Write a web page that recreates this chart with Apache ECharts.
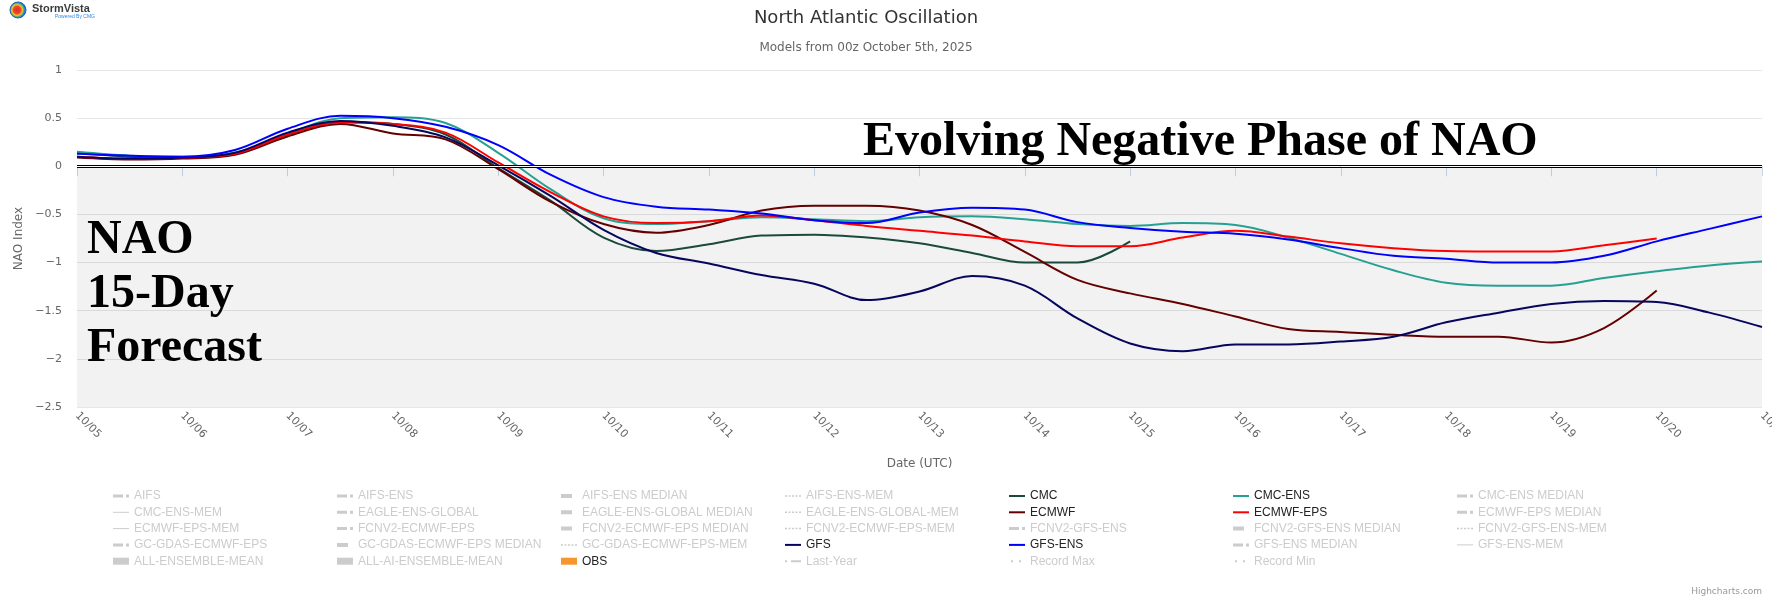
<!DOCTYPE html>
<html>
<head>
<meta charset="utf-8">
<script src="https://cdn.jsdelivr.net/npm/echarts@6/dist/echarts.min.js"></script>
<style>html,body{margin:0;padding:0;background:#fff}#c{width:1772px;height:600px}</style>
</head>
<body>
<div id="c"></div>
<script>
// ---- data ----
const hours = [0,12,24,36,48,60,72,84,96,108,120,132,144,156,168,180,192,204,216,228,240,252,264,276,288,300,312,324,336,348,360,372,384];
const dateLabels = ['10/05','10/06','10/07','10/08','10/09','10/10','10/11','10/12','10/13','10/14','10/15','10/16','10/17','10/18','10/19','10/20','10/21'];
const yTicks = [-2.5,-2,-1.5,-1,-0.5,0,0.5,1];

const cmc      = [0.14,0.10,0.09,0.13,0.32,0.46,0.44,0.33,-0.02,-0.36,-0.74,-0.88,-0.81,-0.72,-0.71,-0.74,-0.80,-0.90,-1.00,-1.00,-0.78];
const cmcEns   = [0.15,0.11,0.10,0.14,0.34,0.50,0.51,0.45,0.14,-0.24,-0.54,-0.60,-0.57,-0.53,-0.55,-0.57,-0.53,-0.52,-0.55,-0.60,-0.62,-0.59,-0.61,-0.74,-0.91,-1.08,-1.21,-1.24,-1.24,-1.16,-1.09,-1.03,-0.99];
const ecmwf    = [0.09,0.07,0.08,0.12,0.31,0.44,0.34,0.28,-0.03,-0.37,-0.60,-0.69,-0.61,-0.46,-0.41,-0.41,-0.46,-0.61,-0.89,-1.18,-1.32,-1.43,-1.56,-1.69,-1.72,-1.75,-1.77,-1.77,-1.83,-1.68,-1.29];
const ecmwfEps = [0.10,0.08,0.09,0.13,0.33,0.455,0.44,0.35,0.04,-0.27,-0.52,-0.59,-0.57,-0.51,-0.56,-0.62,-0.67,-0.72,-0.78,-0.83,-0.83,-0.74,-0.67,-0.73,-0.80,-0.85,-0.88,-0.885,-0.885,-0.82,-0.75];
const gfs      = [0.10,0.08,0.09,0.14,0.35,0.47,0.42,0.30,0.01,-0.31,-0.66,-0.90,-1.01,-1.13,-1.22,-1.39,-1.30,-1.14,-1.24,-1.58,-1.84,-1.92,-1.85,-1.85,-1.82,-1.77,-1.62,-1.52,-1.43,-1.40,-1.41,-1.52,-1.67];
const gfsEns   = [0.13,0.11,0.10,0.17,0.39,0.525,0.50,0.41,0.22,-0.09,-0.32,-0.42,-0.45,-0.49,-0.56,-0.59,-0.48,-0.43,-0.45,-0.58,-0.64,-0.68,-0.70,-0.76,-0.85,-0.93,-0.96,-1.00,-1.00,-0.93,-0.78,-0.65,-0.52];

const legendNames = [
  'AIFS','AIFS-ENS','AIFS-ENS MEDIAN','AIFS-ENS-MEM','CMC','CMC-ENS','CMC-ENS MEDIAN',
  'CMC-ENS-MEM','EAGLE-ENS-GLOBAL','EAGLE-ENS-GLOBAL MEDIAN','EAGLE-ENS-GLOBAL-MEM','ECMWF','ECMWF-EPS','ECMWF-EPS MEDIAN',
  'ECMWF-EPS-MEM','FCNV2-ECMWF-EPS','FCNV2-ECMWF-EPS MEDIAN','FCNV2-ECMWF-EPS-MEM','FCNV2-GFS-ENS','FCNV2-GFS-ENS MEDIAN','FCNV2-GFS-ENS-MEM',
  'GC-GDAS-ECMWF-EPS','GC-GDAS-ECMWF-EPS MEDIAN','GC-GDAS-ECMWF-EPS-MEM','GFS','GFS-ENS','GFS-ENS MEDIAN','GFS-ENS-MEM',
  'ALL-ENSEMBLE-MEAN','ALL-AI-ENSEMBLE-MEAN','OBS','Last-Year','Record Max','Record Min'
];
const legendKinds = [
  'dashdot','dashdot','thick','dotted','solid','solid','dashdot',
  'thin','dashdot','thick','dotted','solid','solid','dashdot',
  'thin','dashdot','thick','dotted','dashdot','thick','dotted',
  'dashdot','thick','dotted','solid','solid','dashdot','thin',
  'block','block','block','dotdash','sparse','sparse'
];
const seriesValues = {
  'CMC': cmc, 'CMC-ENS': cmcEns, 'ECMWF': ecmwf, 'ECMWF-EPS': ecmwfEps, 'GFS': gfs, 'GFS-ENS': gfsEns
};
const seriesColors = {
  'CMC': '#1b4a3b', 'CMC-ENS': '#26a092', 'ECMWF': '#650000', 'ECMWF-EPS': '#ff0000',
  'GFS': '#06065e', 'GFS-ENS': '#0000ff', 'OBS': '#f7962f'
};

// ---- build ----
const pad = 'M15.99,0h0.01v0.01h-0.01z';
const iconPaths = {
  solid:   'path://M0,0h16v2h-16z',
  thin:    'path://M0,0h16v1h-16z',
  dashdot: 'path://M0,0h10v3h-10zM13,0h3v3h-3z',
  thick:   'path://M0,0h11v4h-11z' + pad,
  dotted:  'path://M0,0h2v1.5h-2zM3.5,0h2v1.5h-2zM7,0h2v1.5h-2zM10.5,0h2v1.5h-2zM14,0h2v1.5h-2z',
  block:   'path://M0,0h16v7h-16z',
  dotdash: 'path://M0,0h2v2h-2zM6,0h10v2h-10z',
  sparse:  'path://M0,0h0.01v0.01h-0.01zM2,0h2v2h-2zM10,0h2v2h-2z' + pad
};

const selected = {};
legendNames.forEach(n => { selected[n] = (n in seriesValues) || n === 'OBS'; });

const markSeries = {
  type: 'line', name: '__band', data: [], silent: true, z: 1,
  markArea: { silent: true, itemStyle: { color: 'rgba(0,0,0,0.05)' }, data: [[{ yAxis: -2.5 }, { yAxis: 0 }]] },
  markLine: {
    silent: true, symbol: 'none', label: { show: false }, animation: false,
    data: [
      { yAxis: 0, lineStyle: { color: '#000', width: 3, type: 'solid' } },
      { yAxis: 0, lineStyle: { color: '#fff', width: 1, type: 'solid' } }
    ]
  }
};

const series = [markSeries];
legendNames.forEach(n => {
  if (n === 'OBS') {
    series.push({ type: 'bar', name: n, data: [], itemStyle: { color: seriesColors[n] } });
    return;
  }
  const vals = seriesValues[n] || [];
  series.push({
    type: 'line', name: n, smooth: 0.35, showSymbol: false, symbol: 'none',
    data: vals.map((v, i) => [hours[i], v]),
    lineStyle: { width: 2, color: seriesColors[n] || '#999' },
    itemStyle: { color: seriesColors[n] || '#999' },
    z: 3
  });
});

const colLeft = [113, 337, 561, 785, 1009, 1233, 1457];
const legends = colLeft.map((left, c) => {
  const data = [];
  for (let r = 0; r * 7 + c < legendNames.length; r++) {
    const idx = r * 7 + c;
    data.push({ name: legendNames[idx], icon: iconPaths[legendKinds[idx]] });
  }
  return {
    orient: 'vertical', left: left, top: 490, padding: 0,
    itemWidth: 16, itemHeight: 14, itemGap: 4.3,
    selected: selected, selectedMode: true,
    inactiveColor: '#cccccc', inactiveBorderColor: '#cccccc',
    textStyle: { color: '#222', fontSize: 12, fontFamily: 'Liberation Sans, Arial, sans-serif', padding: [0,0,0,0] },
    data: data
  };
});

const font = 'DejaVu Sans, sans-serif';
const option = {
  animation: false,
  backgroundColor: '#ffffff',
  grid: { left: 77, right: 10, top: 70, bottom: 193, containLabel: false, outerBoundsMode: 'none' },
  xAxis: {
    type: 'value', min: 0, max: 384, interval: 24,
    axisLine: { lineStyle: { color: '#ccd6eb', width: 1 } },
    axisTick: { length: 10, lineStyle: { color: '#ccd6eb' } },
    splitLine: { show: false },
    axisLabel: { rotate: -45, color: '#666', fontSize: 11, fontFamily: font, margin: 7,
      formatter: v => dateLabels[Math.round(v / 24)] },
    name: 'Date (UTC)', nameLocation: 'middle', nameGap: 51,
    nameTextStyle: { color: '#666', fontSize: 12, fontFamily: font }
  },
  yAxis: {
    type: 'value', min: yTicks[0], max: yTicks[yTicks.length - 1], interval: 0.5,
    axisLine: { show: false }, axisTick: { show: false },
    splitLine: { lineStyle: { color: '#e6e6e6' } },
    axisLabel: { color: '#666', fontSize: 11, fontFamily: font, margin: 15,
      formatter: v => String(v).replace('-', '\u2212') },
    name: 'NAO Index', nameLocation: 'middle', nameGap: 47, nameRotate: 90,
    nameTextStyle: { color: '#666', fontSize: 12, fontFamily: font }
  },
  legend: legends,
  series: series,
  graphic: [
    { type: 'text', style: { x: 866, y: 18, text: 'North Atlantic Oscillation', fill: '#333', font: '18px "DejaVu Sans"', textAlign: 'center', textVerticalAlign: 'middle' } },
    { type: 'text', style: { x: 866, y: 48, text: 'Models from 00z October 5th, 2025', fill: '#666', font: '12px "DejaVu Sans"', textAlign: 'center', textVerticalAlign: 'middle' } },
    { type: 'text', z: 100, style: { x: 863, y: 143, text: 'Evolving Negative Phase of NAO', fill: '#000', font: 'bold 48px "Liberation Serif"', textAlign: 'left', textVerticalAlign: 'middle' } },
    { type: 'text', z: 100, style: { x: 87, y: 241, text: 'NAO', fill: '#000', font: 'bold 48px "Liberation Serif"', textAlign: 'left', textVerticalAlign: 'middle' } },
    { type: 'text', z: 100, style: { x: 87, y: 295, text: '15-Day', fill: '#000', font: 'bold 48px "Liberation Serif"', textAlign: 'left', textVerticalAlign: 'middle' } },
    { type: 'text', z: 100, style: { x: 87, y: 349, text: 'Forecast', fill: '#000', font: 'bold 48px "Liberation Serif"', textAlign: 'left', textVerticalAlign: 'middle' } },
    { type: 'text', style: { x: 1762, y: 592, text: 'Highcharts.com', fill: '#999', font: '9px "DejaVu Sans"', textAlign: 'right', textVerticalAlign: 'middle' } },
    { type: 'circle', shape: { cx: 18, cy: 10, r: 8 }, style: {
        fill: { type: 'radial', x: 0.45, y: 0.5, r: 0.5, colorStops: [
          { offset: 0, color: '#e8262b' }, { offset: 0.45, color: '#f04a2a' }, { offset: 0.62, color: '#f7c531' },
          { offset: 0.75, color: '#5cc15a' }, { offset: 0.88, color: '#2a7fd6' }, { offset: 1, color: '#1f5fb0' } ] },
        stroke: '#2b62b8', lineWidth: 1 } },
    { type: 'text', style: { x: 32, y: 9, text: 'StormVista', fill: '#3b3b3b', font: 'bold 11px "Liberation Sans"', textAlign: 'left', textVerticalAlign: 'middle' } },
    { type: 'text', style: { x: 55, y: 16.5, text: 'Powered By CMG', fill: '#2f86e0', font: '5px "Liberation Sans"', textAlign: 'left', textVerticalAlign: 'middle' } }
  ]
};

const chart = echarts.init(document.getElementById('c'), null, { renderer: 'canvas' });
chart.setOption(option);
</script>
</body>
</html>
